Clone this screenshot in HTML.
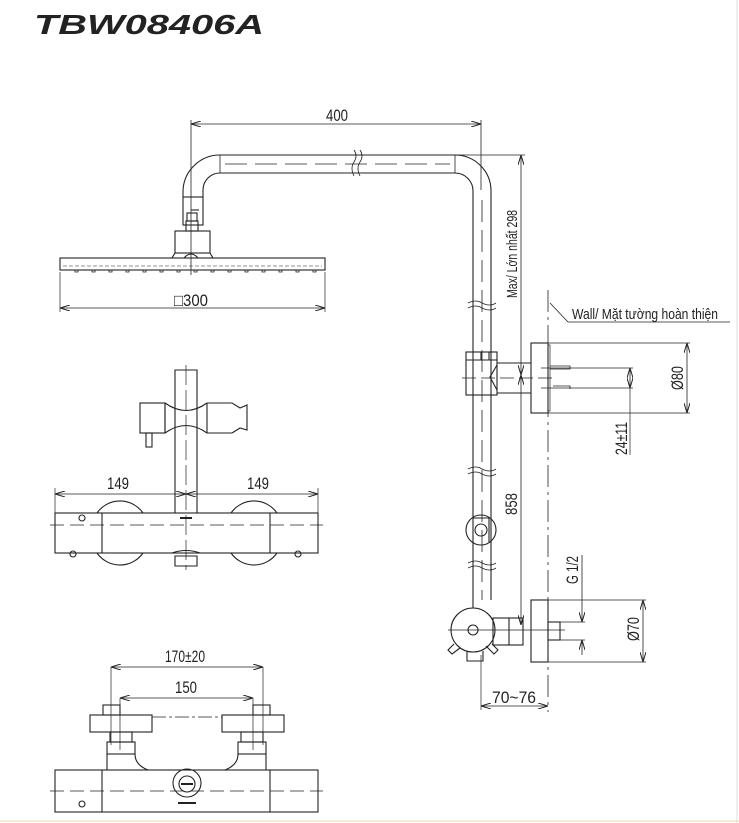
<!DOCTYPE html>
<html><head><meta charset="utf-8"><style>
html,body{margin:0;padding:0;background:#fff;}
svg{display:block;}
text{font-family:"Liberation Sans",sans-serif;fill:#222;}
</style></head><body>
<svg width="739" height="823" viewBox="0 0 739 823" xmlns="http://www.w3.org/2000/svg">
<defs>
<marker id="a" viewBox="0 0 10 6" refX="10" refY="3" markerWidth="10" markerHeight="6" orient="auto-start-reverse" markerUnits="userSpaceOnUse"><path d="M0,0 L10,3 L0,6" fill="none" stroke="#222" stroke-width="1"/></marker>
</defs>
<text x="34" y="34" font-size="28" font-weight="bold" font-style="italic" textLength="230" lengthAdjust="spacingAndGlyphs">TBW08406A</text>
<line x1="737" y1="0" x2="737" y2="823" stroke="#ddd"/>
<line x1="0" y1="821" x2="739" y2="821" stroke="#e8d8b0"/>
<g stroke="#222" stroke-width="1.1" fill="none">
<path d="M220,155 L455,155 A36,36 0 0 1 491,191 L491,600"/>
<path d="M220,173 L455,173 A18,18 0 0 1 473,191 L473,608"/>
<path d="M220,155 A37,37 0 0 0 183,192 L183,197"/>
<path d="M220,173 A17,17 0 0 0 203,190 L203,197"/>
<line x1="220" y1="155" x2="220" y2="173" stroke-width="0.8"/>
<line x1="455" y1="155" x2="455" y2="173" stroke-width="0.8"/>
<line x1="225" y1="164" x2="450" y2="164" stroke-dasharray="22,8" stroke-width="0.8"/>
<line x1="482" y1="200" x2="482" y2="600" stroke-dasharray="22,8" stroke-width="0.8"/>
<line x1="191" y1="120" x2="191" y2="275" stroke-width="0.8"/>
<path d="M354,150 q4,6 0,12 q-4,6 0,14 M360,150 q4,6 0,12 q-4,6 0,14" stroke-width="0.8"/>
<path d="M468,303 q8,-4 14,0 q8,4 14,0 M468,308 q8,-4 14,0 q8,4 14,0" stroke-width="0.8"/>
<path d="M468,469 q8,-4 14,0 q8,4 14,0 M468,474 q8,-4 14,0 q8,4 14,0" stroke-width="0.8"/>
<path d="M468,563 q8,-4 14,0 q8,4 14,0 M468,568 q8,-4 14,0 q8,4 14,0" stroke-width="0.8"/>
<rect x="183" y="197" width="20" height="28"/>
<line x1="191" y1="210" x2="199" y2="210"/>
<rect x="187" y="213" width="10" height="8"/>
<rect x="186" y="221" width="12" height="10"/>
<rect x="175" y="231" width="35" height="22"/>
<path d="M175,253 L172,258 L213,258 L210,253"/>
<path d="M184,258 Q191,250 198,258"/>
<rect x="60" y="258" width="265" height="12"/>
<line x1="63" y1="266" x2="322" y2="266" stroke-dasharray="4,2" stroke-width="0.6"/>
<path d="M75,270 v2 h3 v-2 M92,270 v2 h3 v-2 M109,270 v2 h3 v-2 M126,270 v2 h3 v-2 M143,270 v2 h3 v-2 M160,270 v2 h3 v-2 M177,270 v2 h3 v-2 M194,270 v2 h3 v-2 M211,270 v2 h3 v-2 M228,270 v2 h3 v-2 M245,270 v2 h3 v-2 M262,270 v2 h3 v-2 M279,270 v2 h3 v-2 M296,270 v2 h3 v-2 M313,270 v2 h3 v-2" stroke-width="0.8"/>
<line x1="60" y1="272" x2="60" y2="312" stroke-width="0.7"/>
<line x1="325" y1="272" x2="325" y2="312" stroke-width="0.7"/>
<line x1="60" y1="308" x2="325" y2="308" stroke-width="0.8" marker-start="url(#a)" marker-end="url(#a)"/>
<line x1="191" y1="124" x2="481" y2="124" stroke-width="0.8" marker-start="url(#a)" marker-end="url(#a)"/>
<line x1="481" y1="120" x2="481" y2="190" stroke-width="0.8"/>
<line x1="455" y1="155" x2="525" y2="155" stroke-width="0.7"/>
<line x1="521" y1="155" x2="521" y2="375" stroke-width="0.8" marker-start="url(#a)" marker-end="url(#a)"/>
<line x1="521" y1="375" x2="521" y2="625" stroke-width="0.8" marker-start="url(#a)" marker-end="url(#a)"/>
<line x1="548" y1="290" x2="548" y2="712" stroke-dasharray="22,5,3,5" stroke-width="0.8"/>
<path d="M550,303 L568,322 L730,322" stroke-width="0.8"/>
<rect x="466" y="352" width="31" height="43"/>
<line x1="466" y1="360" x2="497" y2="360"/>
<line x1="481" y1="352" x2="481" y2="360"/><line x1="489" y1="352" x2="489" y2="360"/>
<path d="M497,363 L531,363 M497,393 L531,393 M497,365 L490,377 L497,390"/>
<line x1="462" y1="378" x2="555" y2="378" stroke-dasharray="14,5" stroke-width="0.7"/>
<rect x="531" y="343" width="17" height="70"/>
<rect x="548" y="345" width="2" height="66" stroke-width="0.7"/>
<path d="M541,368 L588,368 M541,388 L588,388 M550,366 h20 v3 h-20 M553,386 h17 v3" stroke-width="0.8"/>
<line x1="548" y1="343" x2="690" y2="343" stroke-width="0.7"/>
<line x1="548" y1="413" x2="690" y2="413" stroke-width="0.7"/>
<line x1="687" y1="343" x2="687" y2="413" stroke-width="0.8" marker-start="url(#a)" marker-end="url(#a)"/>
<line x1="588" y1="368" x2="633" y2="368" stroke-width="0.7"/>
<line x1="588" y1="388" x2="633" y2="388" stroke-width="0.7"/>
<line x1="630" y1="368" x2="630" y2="388" stroke-width="0.8" marker-start="url(#a)" marker-end="url(#a)"/>
<line x1="630" y1="388" x2="630" y2="455" stroke-width="0.7"/>
<circle cx="481" cy="530" r="15"/>
<circle cx="481" cy="530" r="6"/>
<path d="M473,518 h16 v24"/>
<circle cx="473" cy="630" r="22"/>
<circle cx="473" cy="630" r="5"/>
<line x1="448" y1="630" x2="500" y2="630" stroke-width="0.7"/>
<path d="M454,644 L448,650 L452,654 L460,648 M486,646 L494,654 L498,650 L492,644 M467,651 v10 h16 v-10"/>
<rect x="493" y="618" width="30" height="27"/>
<line x1="509" y1="618" x2="509" y2="645"/>
<rect x="531" y="600" width="17" height="62"/>
<rect x="548" y="622" width="12" height="18"/>
<line x1="500" y1="630" x2="565" y2="630" stroke-width="0.7"/>
<line x1="560" y1="622" x2="585" y2="622" stroke-width="0.7"/>
<line x1="560" y1="640" x2="585" y2="640" stroke-width="0.7"/>
<line x1="582" y1="555" x2="582" y2="622" stroke-width="0.8" marker-end="url(#a)"/>
<line x1="582" y1="655" x2="582" y2="640" stroke-width="0.8" marker-end="url(#a)"/>
<line x1="548" y1="600" x2="646" y2="600" stroke-width="0.7"/>
<line x1="548" y1="662" x2="646" y2="662" stroke-width="0.7"/>
<line x1="643" y1="600" x2="643" y2="662" stroke-width="0.8" marker-start="url(#a)" marker-end="url(#a)"/>
<line x1="481" y1="655" x2="481" y2="710" stroke-width="0.7"/>
<line x1="481" y1="706" x2="548" y2="706" stroke-width="0.8" marker-start="url(#a)" marker-end="url(#a)"/>
<path d="M175,513 L175,370 L197,370 L197,513"/>
<line x1="186" y1="365" x2="186" y2="570" stroke-dasharray="20,5" stroke-width="0.7"/>
<rect x="140" y="403" width="25" height="30"/>
<path d="M165,403 Q186,418 207,403 M165,433 Q186,418 207,433 M165,403 L165,433 M207,403 L207,433 L232,433 M207,403 L232,403 L240,408 L247,405 L247,430 L240,428 L232,433"/>
<rect x="146" y="433" width="6" height="14"/>
<line x1="55" y1="488" x2="55" y2="513" stroke-width="0.7"/>
<line x1="318" y1="488" x2="318" y2="513" stroke-width="0.7"/>
<line x1="55" y1="494" x2="186" y2="494" stroke-width="0.8" marker-start="url(#a)" marker-end="url(#a)"/>
<line x1="186" y1="494" x2="318" y2="494" stroke-width="0.8" marker-start="url(#a)" marker-end="url(#a)"/>
<rect x="55" y="513" width="263" height="40"/>
<path d="M97,513 A28,28 0 0 1 143,513 M97,553 A28,28 0 0 0 143,553 M231,513 A28,28 0 0 1 277,513 M231,553 A28,28 0 0 0 277,553"/>
<line x1="102" y1="513" x2="102" y2="553"/><line x1="270" y1="513" x2="270" y2="553"/>
<line x1="50" y1="525" x2="323" y2="525" stroke-dasharray="14,6" stroke-width="0.7"/>
<circle cx="82" cy="518" r="3"/>
<line x1="180" y1="518" x2="192" y2="518" stroke-width="2"/>
<path d="M172,553 Q186,548 200,553 M175,556 h22 v10 h-22z"/>
<circle cx="73" cy="554" r="3"/><circle cx="298" cy="554" r="3"/>
<line x1="111" y1="667" x2="263" y2="667" stroke-width="0.8" marker-start="url(#a)" marker-end="url(#a)"/>
<line x1="120" y1="698" x2="253" y2="698" stroke-width="0.8" marker-start="url(#a)" marker-end="url(#a)"/>
<line x1="111" y1="667" x2="111" y2="745" stroke-width="0.7"/>
<line x1="263" y1="667" x2="263" y2="745" stroke-width="0.7"/>
<line x1="120" y1="698" x2="120" y2="750" stroke-width="0.7"/>
<line x1="253" y1="698" x2="253" y2="750" stroke-width="0.7"/>
<rect x="103" y="705" width="17" height="10"/><rect x="253" y="705" width="17" height="10"/>
<rect x="90" y="715" width="62" height="17"/><rect x="222" y="715" width="62" height="17"/>
<line x1="152" y1="717" x2="222" y2="717" stroke-dasharray="14,3,3,3" stroke-width="0.7"/>
<rect x="110" y="732" width="22" height="10"/><rect x="241" y="732" width="22" height="10"/>
<rect x="107" y="742" width="28" height="12"/><rect x="238" y="742" width="28" height="12"/>
<path d="M107,754 v16 M135,754 Q135,765 148,770 M266,754 v16 M238,754 Q238,765 225,770"/>
<rect x="55" y="770" width="263" height="42"/>
<line x1="102" y1="770" x2="102" y2="812"/><line x1="270" y1="770" x2="270" y2="812"/>
<line x1="50" y1="791" x2="323" y2="791" stroke-dasharray="14,6" stroke-width="0.7"/>
<circle cx="187" cy="783" r="14"/><circle cx="187" cy="784" r="8"/>
<line x1="181" y1="784" x2="193" y2="784" stroke-width="2"/>
<circle cx="82" cy="804" r="3"/>
<line x1="178" y1="803" x2="196" y2="803" stroke-width="2"/>
</g>
<text x="174" y="306" font-size="17" textLength="34" lengthAdjust="spacingAndGlyphs">□300</text>
<text x="326" y="121" font-size="17" textLength="22" lengthAdjust="spacingAndGlyphs">400</text>
<text x="107" y="489" font-size="17" textLength="22" lengthAdjust="spacingAndGlyphs">149</text>
<text x="247" y="489" font-size="17" textLength="22" lengthAdjust="spacingAndGlyphs">149</text>
<text x="165" y="662" font-size="17" textLength="40" lengthAdjust="spacingAndGlyphs">170±20</text>
<text x="175" y="693" font-size="17" textLength="22" lengthAdjust="spacingAndGlyphs">150</text>
<text x="492" y="703" font-size="17" textLength="44" lengthAdjust="spacingAndGlyphs">70~76</text>
<text x="572" y="319" font-size="15" textLength="146" lengthAdjust="spacingAndGlyphs">Wall/ Mặt tường hoàn thiện</text>
<text transform="translate(517,298) rotate(-90)" font-size="15" textLength="88" lengthAdjust="spacingAndGlyphs">Max/ Lớn nhất 298</text>
<text transform="translate(517,515) rotate(-90)" font-size="17" textLength="22" lengthAdjust="spacingAndGlyphs">858</text>
<text transform="translate(683,390) rotate(-90)" font-size="17" textLength="24" lengthAdjust="spacingAndGlyphs">Ø80</text>
<text transform="translate(627,455) rotate(-90)" font-size="17" textLength="33" lengthAdjust="spacingAndGlyphs">24±11</text>
<text transform="translate(578,584) rotate(-90)" font-size="17" textLength="28" lengthAdjust="spacingAndGlyphs">G 1/2</text>
<text transform="translate(639,641) rotate(-90)" font-size="17" textLength="24" lengthAdjust="spacingAndGlyphs">Ø70</text>
</svg>
</body></html>
